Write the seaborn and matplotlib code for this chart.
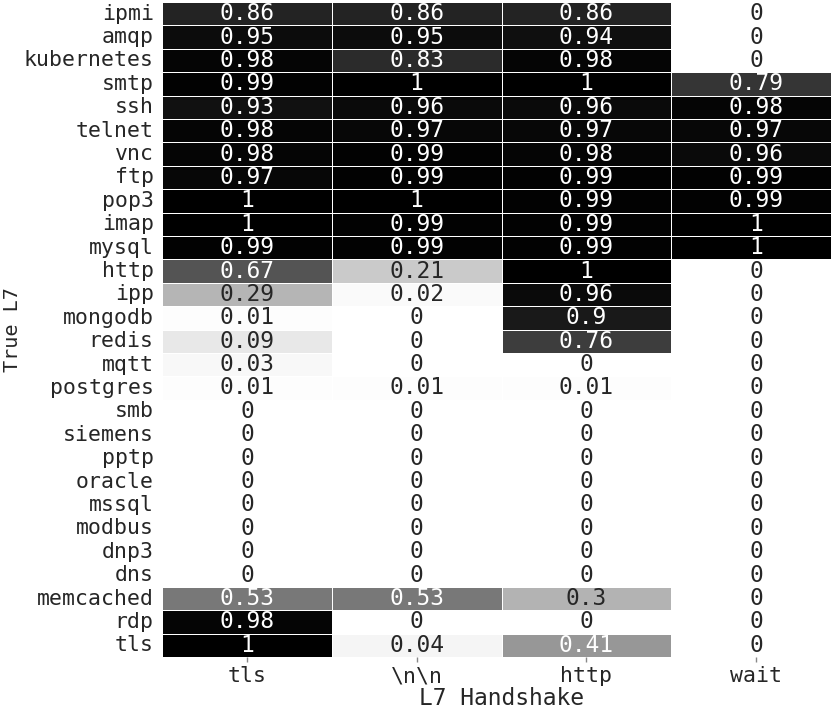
import numpy as np
import pandas as pd
import matplotlib
matplotlib.use("Agg")
import matplotlib.pyplot as plt
import seaborn as sns

rows = ["ipmi", "amqp", "kubernetes", "smtp", "ssh", "telnet", "vnc", "ftp",
        "pop3", "imap", "mysql", "http", "ipp", "mongodb", "redis", "mqtt",
        "postgres", "smb", "siemens", "pptp", "oracle", "mssql", "modbus",
        "dnp3", "dns", "memcached", "rdp", "tls"]
cols = ["tls", "\\n\\n", "http", "wait"]

tls_vals = [0.86, 0.95, 0.98, 0.99, 0.93, 0.98, 0.98, 0.97, 1, 1, 0.99, 0.67,
            0.29, 0.01, 0.09, 0.03, 0.01, 0, 0, 0, 0, 0, 0, 0, 0, 0.53, 0.98, 1]
nn_vals = [0.86, 0.95, 0.83, 1, 0.96, 0.97, 0.99, 0.99, 1, 0.99, 0.99, 0.21,
           0.02, 0, 0, 0, 0.01, 0, 0, 0, 0, 0, 0, 0, 0, 0.53, 0, 0.04]
http_vals = [0.86, 0.94, 0.98, 1, 0.96, 0.97, 0.98, 0.99, 0.99, 0.99, 0.99, 1,
             0.96, 0.9, 0.76, 0, 0.01, 0, 0, 0, 0, 0, 0, 0, 0, 0.3, 0, 0.41]
wait_vals = [0, 0, 0, 0.79, 0.98, 0.97, 0.96, 0.99, 0.99, 1, 1, 0,
             0, 0, 0, 0, 0, 0, 0, 0, 0, 0, 0, 0, 0, 0, 0, 0]

df = pd.DataFrame({cols[0]: tls_vals, cols[1]: nn_vals,
                   cols[2]: http_vals, cols[3]: wait_vals}, index=rows)

sns.set_theme(style="white")
plt.rcParams['font.family'] = ['DejaVu Sans Mono', 'DejaVu Sans']

W, H = 831, 712
fig = plt.figure(figsize=(W / 100, H / 100), dpi=100)
left, right, top, bottom = 162, 841, 2, 657
ax = fig.add_axes([left / W, 1 - bottom / H, (right - left) / W, (bottom - top) / H])

sns.heatmap(df, ax=ax, cmap="gray_r", vmin=0, vmax=1, annot=True, fmt="g",
            annot_kws={"fontsize": 16.5}, cbar=False,
            linewidths=0.6, linecolor="white")

ax.set_xlabel("L7 Handshake", fontsize=16.5, labelpad=1)
ax.set_ylabel("True L7", fontsize=14.5, labelpad=1)
ax.tick_params(axis="x", labelsize=15.5, length=3.5, width=1, color="#888888", pad=3, bottom=True)
ax.tick_params(axis="y", labelsize=15.5, length=0, pad=6)
plt.setp(ax.get_yticklabels(), rotation=0)
plt.setp(ax.get_xticklabels(), rotation=0)

fig.savefig("out.png", dpi=100)
